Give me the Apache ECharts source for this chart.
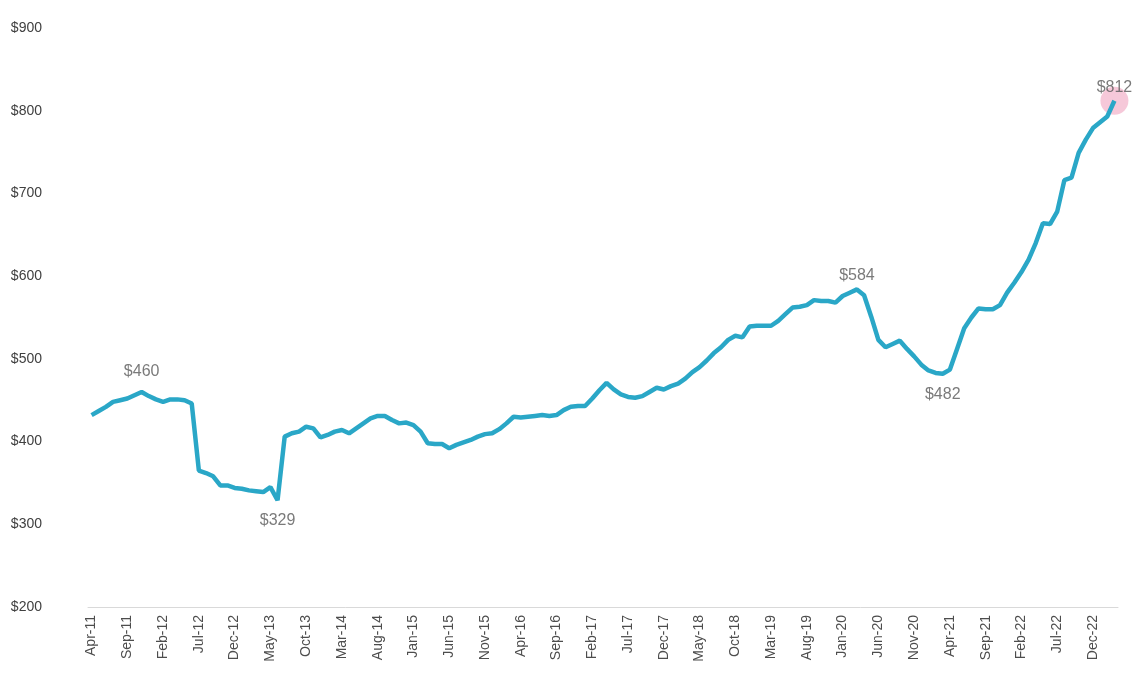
<!DOCTYPE html>
<html>
<head>
<meta charset="utf-8">
<script src="https://cdn.jsdelivr.net/npm/echarts@6/dist/echarts.min.js"></script>
<style>
html,body{margin:0;padding:0;background:#fff;}
#chart{width:1137px;height:691px;}
</style>
</head>
<body>
<div id="chart"></div>
<script>
const monthNames = ['Jan','Feb','Mar','Apr','May','Jun','Jul','Aug','Sep','Oct','Nov','Dec'];
const startMonth = 3; // Apr
const startYear = 11;
const values = [
 432,437,442,448,450,452,456,460,455,451,448,451,451,450,446,365,362,358,347,347,
 344,343,341,340,339,345,329,406,410,412,418,416,405,408,412,414,410,416,422,428,
 431,431,426,422,423,420,412,398,397,397,392,396,399,402,406,409,410,415,422,430,
 429,430,431,432,431,432,438,442,443,443,452,462,471,463,457,454,453,455,460,465,
 463,467,470,476,484,490,498,507,514,523,528,526,539,540,540,540,546,554,562,563,
 565,571,570,570,568,576,580,584,577,551,523,514,518,522,512,503,493,486,483,482,
 487,512,537,550,561,560,560,565,580,592,605,620,640,664,663,678,716,719,749,765,
 779,786,793,812
];
const categories = values.map((v, i) => {
  const m = (startMonth + i) % 12;
  const y = startYear + Math.floor((startMonth + i) / 12);
  return monthNames[m] + '-' + y;
});
const yTicks = [200, 300, 400, 500, 600, 700, 800, 900];
const labelAbove = [7, 107, 143];
const labelBelow = [26, 119];
const highlightIndex = 143;

const labelData = values.map((v, i) => {
  if (!(labelAbove.includes(i) || labelBelow.includes(i))) return null;
  return {
    value: v,
    label: {
      show: true,
      position: labelAbove.includes(i) ? 'top' : 'bottom',
      distance: (i === 107 || i === 143) ? 5 : 12,
      formatter: '$' + v,
      color: '#595959',
      fontSize: 16,
      fontFamily: 'Liberation Sans'
    }
  };
});

const chart = echarts.init(document.getElementById('chart'));
chart.setOption({
  backgroundColor: '#ffffff',
  animation: false,
  grid: { left: 88, right: 19, top: 28, bottom: 84 },
  xAxis: {
    type: 'category',
    data: categories,
    boundaryGap: true,
    axisLine: { show: true, lineStyle: { color: '#d9d9d9', width: 1 } },
    axisTick: { show: false },
    axisLabel: {
      interval: 4,
      rotate: 90,
      margin: 8,
      color: '#4d4d4d',
      fontSize: 14,
      fontFamily: 'Liberation Sans'
    },
    splitLine: { show: false }
  },
  yAxis: {
    type: 'value',
    min: yTicks[0],
    max: yTicks[yTicks.length - 1],
    interval: 100,
    axisLine: { show: false },
    axisTick: { show: false },
    splitLine: { show: false },
    axisLabel: {
      margin: 46,
      color: '#404040',
      fontSize: 14,
      fontFamily: 'Liberation Sans',
      formatter: v => '$' + v
    }
  },
  series: [
    {
      type: 'line',
      data: values,
      symbol: 'none',
      lineStyle: { color: '#2aa7c7', width: 4.5 },
      z: 3
    },
    {
      type: 'scatter',
      data: values.map((v, i) => i === highlightIndex ? v : null),
      symbol: 'circle',
      symbolSize: 28,
      itemStyle: { color: 'rgba(236,140,175,0.6)' },
      z: 2,
      silent: true
    },
    {
      type: 'scatter',
      data: labelData,
      symbol: 'circle',
      symbolSize: 1,
      itemStyle: { color: 'rgba(0,0,0,0)' },
      z: 4,
      silent: true
    }
  ]
});
</script>
</body>
</html>
